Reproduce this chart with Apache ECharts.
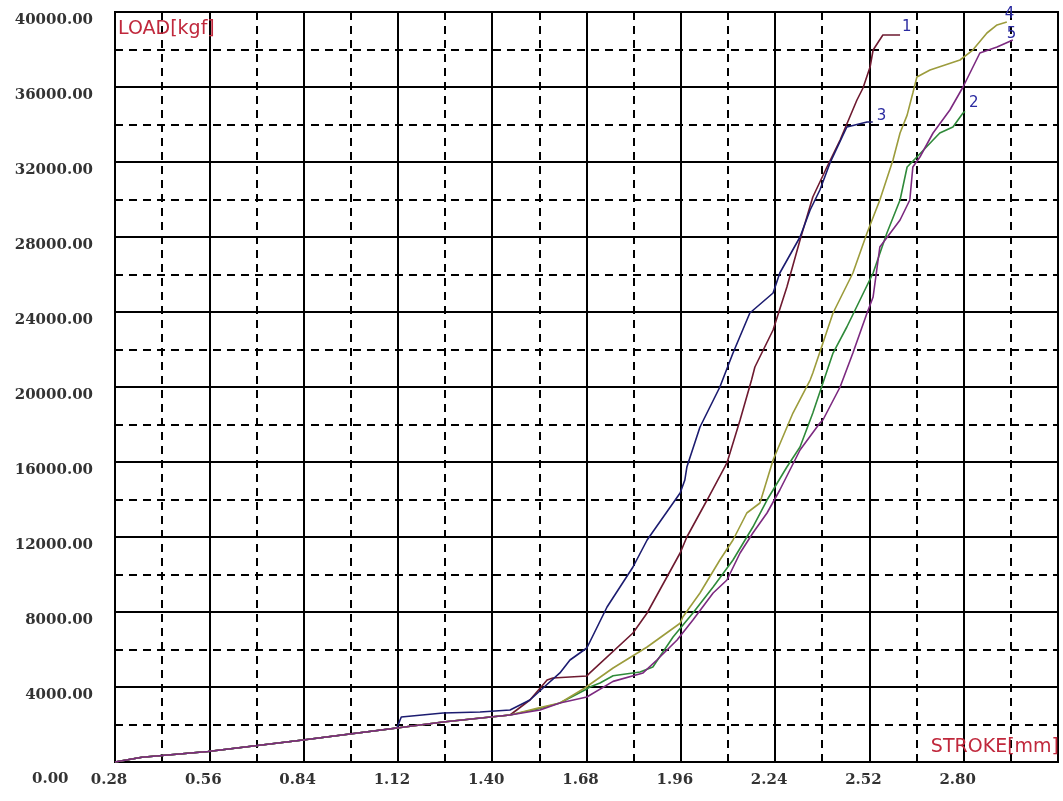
<!DOCTYPE html>
<html>
<head>
<meta charset="utf-8">
<script src="https://cdn.jsdelivr.net/npm/echarts@6/dist/echarts.min.js"></script>
<style>
html,body{margin:0;padding:0;background:#fff;}
#c{width:1063px;height:801px;}
</style>
</head>
<body>
<div id="c"></div>
<script>
// ---- data (stroke mm, load kgf) ----
const seriesNames = ['1', '2', '3', '4', '5'];
const common = [[0.28,0],[0.36,250],[0.556,560],[0.838,1173],[1.117,1813]];
const curve1 = common.concat([[1.254,2133],[1.364,2347],[1.453,2507],[1.512,3307],[1.563,4373],[1.580,4480],[1.681,4587],[1.690,4750],[1.818,6880],[1.860,7947],[1.958,11147],[1.978,12000],[2.038,13973],[2.097,15947],[2.136,18240],[2.170,20373],[2.180,21067],[2.234,23040],[2.275,25333],[2.314,27840],[2.352,30133],[2.394,31733],[2.433,33173],[2.483,35307],[2.501,35947],[2.522,37067],[2.531,37973],[2.560,38773],[2.611,38773]]);
const curve2 = common.concat([[1.254,2133],[1.453,2507],[1.542,2850],[1.601,3147],[1.675,3840],[1.690,4000],[1.720,4213],[1.759,4600],[1.839,4800],[1.877,5067],[1.937,6667],[1.996,7947],[2.056,9333],[2.115,10773],[2.174,12533],[2.216,13973],[2.275,15733],[2.314,16800],[2.352,18613],[2.412,21813],[2.453,23200],[2.492,24640],[2.531,26080],[2.572,28213],[2.611,29973],[2.632,31733],[2.661,32267],[2.709,33173],[2.729,33547],[2.768,33867],[2.798,34613],[2.804,34700]]);
const curve3 = common.concat([[1.13,2400],[1.254,2613],[1.364,2667],[1.453,2773],[1.512,3307],[1.551,3947],[1.601,4750],[1.631,5440],[1.681,6080],[1.741,8267],[1.818,10400],[1.860,11840],[1.958,14347],[1.972,15040],[1.978,15733],[2.017,17867],[2.076,20000],[2.115,21813],[2.165,23947],[2.234,25013],[2.254,26080],[2.314,28000],[2.344,29440],[2.373,30507],[2.403,31947],[2.453,33867],[2.513,34133],[2.530,34133]]);
const curve4 = common.concat([[1.254,2133],[1.453,2507],[1.542,2900],[1.601,3147],[1.675,3947],[1.759,5013],[1.860,6133],[1.958,7400],[1.966,7733],[2.017,9013],[2.076,10773],[2.115,11840],[2.156,13280],[2.195,13813],[2.234,16107],[2.293,18613],[2.344,20373],[2.352,20747],[2.412,23947],[2.471,26080],[2.513,28213],[2.551,29973],[2.590,32107],[2.611,33547],[2.632,34500],[2.649,35680],[2.661,36533],[2.700,36907],[2.789,37440],[2.827,37973],[2.869,38880],[2.899,39307],[2.928,39467]]);
const curve5 = common.concat([[1.254,2133],[1.453,2507],[1.542,2773],[1.601,3147],[1.681,3467],[1.759,4300],[1.848,4750],[1.889,5440],[1.949,6507],[1.996,7573],[2.056,9013],[2.097,9707],[2.136,11147],[2.174,12213],[2.216,13280],[2.254,14507],[2.314,16640],[2.373,18080],[2.382,18240],[2.433,20000],[2.471,21813],[2.513,23950],[2.531,24800],[2.551,27467],[2.611,28907],[2.640,29973],[2.649,31733],[2.670,32267],[2.709,33547],[2.759,34773],[2.798,36000],[2.848,37813],[2.899,38133],[2.946,38507]]);
const curves = [curve1, curve2, curve3, curve4, curve5];
const colors = ['#6e1a30', '#2f8a3a', '#1c1c70', '#9c9c3c', '#7c2a80'];
const labelOffsets = [[0,-8],[2,-8],[2,-6],[-4,-8],[-8,-6]];
const xMin = 0.28, xMax = 3.08, xStep = 0.28;
const yMin = 0, yMax = 40000, yStep = 4000;
const xTitle = 'STROKE[mm]';
const yTitle = 'LOAD[kgf]';
const extraZeroLabel = '0.00';

const chart = echarts.init(document.getElementById('c'));
const labelFont = {fontFamily:'DejaVu Serif', fontWeight:'bold', fontSize:15, color:'#333'};
const gridL = 115, gridT = 12, gridR = 5, gridB = 39;

chart.setOption({
  animation: false,
  backgroundColor: '#fff',
  grid: {left: gridL, right: gridR, top: gridT, bottom: gridB, show: true, borderColor: '#000', borderWidth: 2, backgroundColor: 'transparent'},
  xAxis: {
    type: 'value', min: xMin, max: xMax, interval: xStep,
    axisLine: {show: false}, axisTick: {show: false},
    axisLabel: Object.assign({margin: 11, padding: [0, 12, 0, 0], formatter: v => (Math.abs(v - xMax) < 1e-6 ? '' : v.toFixed(2))}, labelFont),
    splitLine: {show: true, lineStyle: {color: '#000', width: 2}},
    minorTick: {show: false, splitNumber: 2},
    minorSplitLine: {show: true, lineStyle: {color: '#000', width: 2, type: [8, 6]}}
  },
  yAxis: {
    type: 'value', min: yMin, max: yMax, interval: yStep,
    axisLine: {show: false}, axisTick: {show: false},
    axisLabel: Object.assign({margin: 22, verticalAlign: 'top', padding: [1, 0, 0, 0], showMinLabel: false, formatter: v => v.toFixed(2)}, labelFont),
    splitLine: {show: true, lineStyle: {color: '#000', width: 2}},
    minorTick: {show: false, splitNumber: 2},
    minorSplitLine: {show: true, lineStyle: {color: '#000', width: 2, type: [8, 6]}}
  },
  series: curves.map((d, i) => ({
    name: seriesNames[i], type: 'line', data: d, showSymbol: false, z: 5,
    lineStyle: {color: colors[i], width: 1.6},
    endLabel: {show: true, formatter: seriesNames[i], color: '#2a2aa0', fontFamily: 'DejaVu Sans', fontSize: 15, distance: 2, offset: labelOffsets[i]}
  })),
  graphic: [
    {type: 'text', left: 118, top: 20, z: 10, style: {text: yTitle, fill: '#c0283c', font: '19px "DejaVu Sans", sans-serif'}},
    {type: 'text', right: 4, top: 738, z: 10, style: {text: xTitle, fill: '#c0283c', font: '19px "DejaVu Sans", sans-serif'}},
    {type: 'text', left: 32, top: 772, z: 10, style: {text: extraZeroLabel, fill: '#333', font: 'bold 15px "DejaVu Serif"'}}
  ]
});
</script>
</body>
</html>
